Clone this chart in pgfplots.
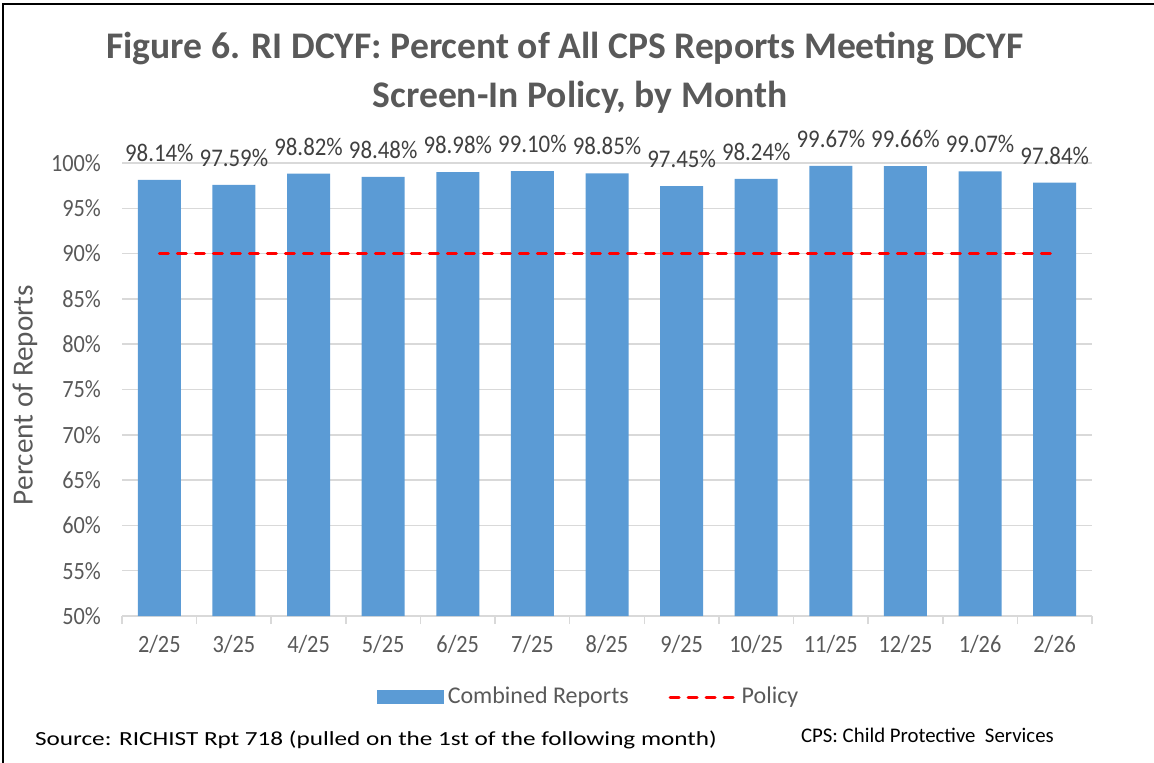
\documentclass[border=0pt]{standalone}
\usepackage{pgfplots}
\pgfplotsset{compat=1.18}
\usepackage{pgfplotstable}
\usepackage{fontspec}
\setmainfont{Carlito}
\newfontfamily\narrowfont[FakeStretch=0.9]{Carlito}

\definecolor{barblue}{HTML}{5B9BD5}
\definecolor{txtgray}{HTML}{595959}
\definecolor{lblgray}{HTML}{404040}
\definecolor{gridgray}{HTML}{D9D9D9}

\pgfplotsset{
  barlegend/.style={legend image code/.code={\fill[barblue] (0pt,-3.5pt) rectangle (33.5pt,3.5pt);}},
  linelegend/.style={legend image code/.code={\draw[##1] (0pt,0pt) -- (33pt,0pt);}},
}

% month index, percent meeting policy
\pgfplotstableread{
x v
0 98.14
1 97.59
2 98.82
3 98.48
4 98.98
5 99.10
6 98.85
7 97.45
8 98.24
9 99.67
10 99.66
11 99.07
12 97.84
}\screenin

\begin{document}
\begin{tikzpicture}
\useasboundingbox (0pt,0pt) rectangle (577pt,-381.5pt);
\draw[black, line width=1pt] (1.5pt,-381.5pt) -- (1.5pt,-2pt) -- (577pt,-2pt);

\node[font=\fontsize{18.8}{22}\selectfont\bfseries, text=txtgray] at (282.5pt,-24pt)
  {Figure 6. RI DCYF: Percent of All CPS Reports Meeting DCYF};
\node[font=\fontsize{18.8}{22}\selectfont\bfseries, text=txtgray] at (290pt,-48.5pt)
  {Screen-In Policy, by Month};

\begin{axis}[
    scale only axis,
    width=485pt, height=226.5pt,
    at={(61pt,-308pt)}, anchor=south west,
    xmin=-0.5, xmax=12.5, ymin=50, ymax=100,
    clip=false,
    ytick={50,55,...,100},
    yticklabel={\pgfmathprintnumber[assume math mode=true]{\tick}\%},
    yticklabel style={xshift=-7pt},
    xtick={0,...,12},
    xticklabels={2/25,3/25,4/25,5/25,6/25,7/25,8/25,9/25,10/25,11/25,12/25,1/26,2/26},
    xticklabel style={yshift=-6pt},
    minor xtick={-0.5,0.5,...,12.5},
    axis x line*=bottom, axis y line*=left,
    x axis line style={draw=gridgray, line width=0.75pt, -},
    y axis line style={draw=none},
    major tick length=0pt, minor tick length=4pt, tick align=outside,
    minor tick style={draw=gridgray, line width=0.75pt},
    major tick style={draw=none},
    ymajorgrids,
    grid style={draw=gridgray, line width=0.75pt},
    tick label style={font=\narrowfont\fontsize{12.4}{14}\selectfont, text=txtgray},
    legend style={draw=none, fill=none, legend columns=2, at={(0.482,-0.179)}, anchor=center,
      font=\fontsize{12}{14}\selectfont, text=txtgray,
      /tikz/every even column/.append style={column sep=18pt}},
]

\addplot[ybar, bar width=21.5pt, fill=barblue, draw=none, barlegend,
  nodes near coords={\pgfmathprintnumber[fixed, fixed zerofill, precision=2, assume math mode=true]{\pgfplotspointmeta}\%},
  nodes near coords style={anchor=center, yshift=13.5pt, font=\narrowfont\fontsize{12.7}{14}\selectfont, text=lblgray}]
  table[x=x, y=v] {\screenin};
\addlegendentry{Combined Reports}

\addplot[red, line width=1.5pt, line cap=round, dash pattern=on 4.5pt off 4.5pt, linelegend]
  coordinates {(0,90) (12,90)};
\addlegendentry{Policy}
\end{axis}

\node[rotate=90, font=\fontsize{14.6}{17}\selectfont, text=txtgray] at (12.5pt,-197.5pt) {Percent of Reports};
\node[anchor=west, font=\fontsize{10}{12}\selectfont\addfontfeature{FakeStretch=1.26}, text=black] at (14pt,-370pt)
  {Source: RICHIST Rpt 718 (pulled on the 1st of the following month)};
\node[anchor=west, font=\fontsize{10.4}{12}\selectfont, text=black] at (397pt,-367.5pt)
  {CPS: Child Protective\ \ Services};
\end{tikzpicture}
\end{document}
